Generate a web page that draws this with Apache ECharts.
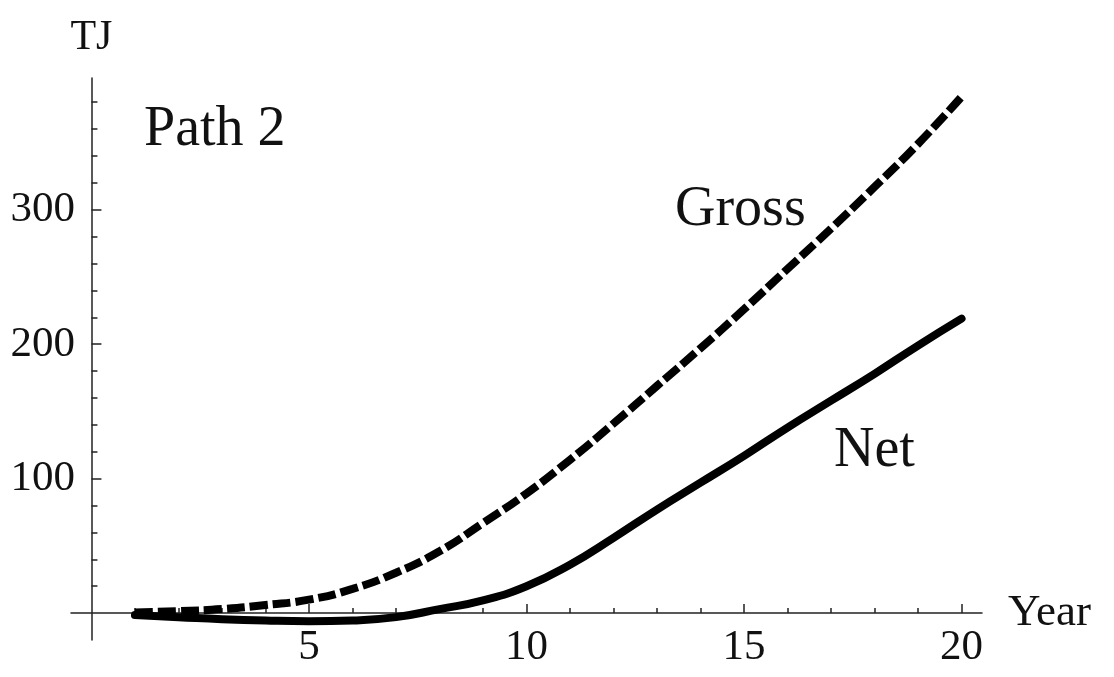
<!DOCTYPE html>
<html>
<head>
<meta charset="utf-8">
<script src="https://cdn.jsdelivr.net/npm/echarts@6/dist/echarts.min.js"></script>
<style>
  html, body { margin: 0; padding: 0; background: #fff; }
  #main { width: 1114px; height: 677px; }
</style>
</head>
<body>
<div id="main"></div>
<script>
// values (TJ per year)
const years = [1, 2, 3, 4, 5, 6, 7, 8, 9, 10, 11, 12, 13, 14, 15, 16, 17, 18, 19, 20]
const gross = [0.5, 1.5, 3, 6, 10, 18, 30, 46, 67, 89, 114, 141, 169, 197, 226, 256, 286, 317, 349, 384]
const net = [-1.5, -3, -4.5, -5.5, -6, -5.5, -3, 3, 9.5, 20, 36, 56, 77, 97, 117, 138, 158, 178, 199, 219]

const xMajorTicks = [5, 10, 15, 20]
const xMinorTicks = [1, 2, 3, 4, 6, 7, 8, 9, 11, 12, 13, 14, 16, 17, 18, 19]
const yMajorTicks = [100, 200, 300]
const yMinorTicks = [20, 40, 60, 80, 120, 140, 160, 180, 220, 240, 260, 280, 320, 340, 360, 380]

const serif = '"Liberation Serif", "DejaVu Serif", serif'
const axisColor = '#222'

const xRange = { min: -0.47, max: 20.47 }
const yRange = { min: -20, max: 398 }

const chart = echarts.init(document.getElementById('main'))

const baseAxis = (range) => ({
  type: 'value',
  min: range.min,
  max: range.max,
  splitLine: { show: false },
  axisLine: { onZero: true, onZeroAxisIndex: 0, lineStyle: { color: axisColor, width: 1.5 } },
})

chart.setOption({
  animation: false,
  backgroundColor: '#fff',
  grid: { left: 71, right: 132, top: 78, bottom: 37, outerBoundsMode: 'none' },
  xAxis: [
    {
      ...baseAxis(xRange),
      position: 'bottom',
      name: 'Year',
      nameLocation: 'end',
      nameGap: 26,
      nameTextStyle: { fontFamily: serif, fontSize: 45, color: '#111', verticalAlign: 'middle' },
      axisTick: { inside: true, length: 9, customValues: xMajorTicks, lineStyle: { color: axisColor, width: 1.5 } },
      // labels sit at the grid edge, so pull them back up to the zero line
      axisLabel: { customValues: xMajorTicks, margin: -14, fontFamily: serif, fontSize: 43, color: '#111' },
    },
    {
      ...baseAxis(xRange),
      position: 'bottom',
      axisLine: { show: false, onZero: true, onZeroAxisIndex: 0 },
      axisTick: { inside: true, length: 5, customValues: xMinorTicks, lineStyle: { color: axisColor, width: 1.5 } },
      axisLabel: { show: false },
    },
  ],
  yAxis: [
    {
      ...baseAxis(yRange),
      position: 'left',
      name: 'TJ',
      nameLocation: 'end',
      nameGap: 19,
      nameTextStyle: { fontFamily: serif, fontSize: 42, color: '#111', align: 'center' },
      axisTick: { inside: true, length: 10, customValues: yMajorTicks, lineStyle: { color: axisColor, width: 1.5 } },
      axisLabel: { customValues: yMajorTicks, margin: -4, fontFamily: serif, fontSize: 43, color: '#111' },
    },
    {
      ...baseAxis(yRange),
      position: 'left',
      axisLine: { show: false, onZero: true, onZeroAxisIndex: 0 },
      axisTick: { inside: true, length: 6, customValues: yMinorTicks, lineStyle: { color: axisColor, width: 1.5 } },
      axisLabel: { show: false },
    },
  ],
  series: [
    {
      name: 'Gross',
      type: 'line',
      xAxisIndex: 0,
      yAxisIndex: 0,
      data: years.map((yr, i) => [yr, gross[i]]),
      showSymbol: false,
      symbol: 'none',
      smooth: 0.5,
      lineStyle: { color: '#000', width: 8, type: [18, 5], cap: 'butt' },
    },
    {
      name: 'Net',
      type: 'line',
      xAxisIndex: 0,
      yAxisIndex: 0,
      data: years.map((yr, i) => [yr, net[i]]),
      showSymbol: false,
      symbol: 'none',
      smooth: 0.5,
      lineStyle: { color: '#000', width: 8, cap: 'round' },
    },
  ],
  graphic: [
    { type: 'text', style: { x: 144, y: 130, text: 'Path 2', font: `56px ${serif}`, fill: '#111', textVerticalAlign: 'middle' } },
    { type: 'text', style: { x: 675, y: 210, text: 'Gross', font: `56px ${serif}`, fill: '#111', textVerticalAlign: 'middle' } },
    { type: 'text', style: { x: 834, y: 451, text: 'Net', font: `56px ${serif}`, fill: '#111', textVerticalAlign: 'middle' } },
  ],
})
</script>
</body>
</html>
